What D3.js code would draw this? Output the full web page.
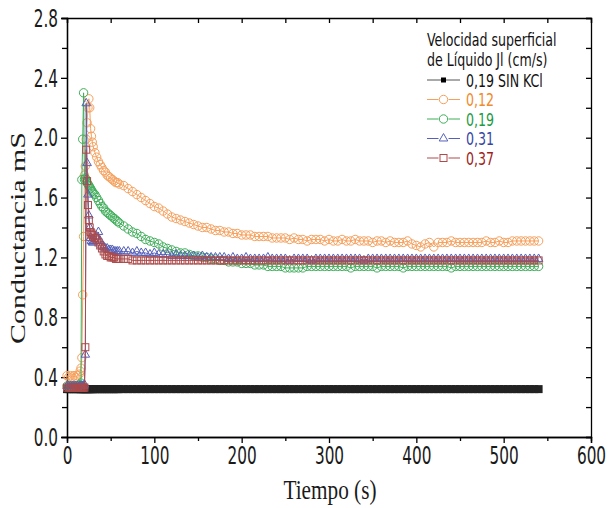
<!DOCTYPE html>
<html>
<head>
<meta charset="utf-8">
<title>Conductancia</title>
<style>
  body { margin: 0; background: #fff; }
  svg { display: block; }
  .axis path, .axis line { stroke: #000; stroke-width: 1.3; }
  .axis text {
    font-family: "DejaVu Sans Condensed", "DejaVu Sans", sans-serif;
    font-size: 17px; fill: #1a1a1a;
    transform-box: fill-box; transform-origin: center; transform: scaleY(1.45);
  }
  .leg text {
    font-family: "DejaVu Sans Condensed", "DejaVu Sans", sans-serif;
    font-size: 14px;
    transform-box: fill-box; transform-origin: center; transform: scaleY(1.3);
  }
  .titulo { font-family: "Liberation Serif", "Times New Roman", serif; font-size: 21px; fill: #1a1a1a; }
  .estirado { transform-box: fill-box; transform-origin: center; transform: scaleY(1.25); }
</style>
</head>
<body>
<svg width="609" height="508"></svg>
<script src="https://cdn.jsdelivr.net/npm/d3@7"></script>
<script>
// tiempo (s), compartido por todas las series
var tiempo = [
  0, 2, 4, 6, 8, 10, 12, 14,
  15, 16, 17, 18, 19, 20, 21, 22, 23, 24, 25, 26, 27, 28, 29, 30,
  32, 34, 36, 38, 40, 42, 44, 46, 48, 50, 52, 54, 56, 58, 60,
  65, 70, 75, 80, 85, 90, 95, 100, 105, 110,
  115, 120, 125, 130, 135, 140, 145, 150, 155, 160,
  165, 170, 175, 180, 185, 190, 195, 200, 205, 210,
  215, 220, 225, 230, 235, 240, 245, 250, 255, 260,
  265, 270, 275, 280, 285, 290, 295, 300, 305, 310,
  315, 320, 325, 330, 335, 340, 345, 350, 355, 360,
  365, 370, 375, 380, 385, 390, 395, 400, 405, 410,
  415, 420, 425, 430, 435, 440, 445, 450, 455, 460,
  465, 470, 475, 480, 485, 490, 495, 500, 505, 510,
  515, 520, 525, 530, 535, 540
];

// 0,19 SIN KCl
var sinKCl = [
  0.32, 0.32, 0.32, 0.32, 0.32, 0.32, 0.32, 0.32,
  0.32, 0.32, 0.32, 0.32, 0.32, 0.32, 0.32, 0.32, 0.32, 0.32, 0.32, 0.32, 0.32, 0.32, 0.32, 0.32,
  0.32, 0.32, 0.32, 0.32, 0.32, 0.32, 0.32, 0.32, 0.32, 0.32, 0.32, 0.32, 0.32, 0.32, 0.32,
  0.32, 0.32, 0.32, 0.32, 0.32, 0.32, 0.32, 0.32, 0.32, 0.32,
  0.32, 0.32, 0.32, 0.32, 0.32, 0.32, 0.32, 0.32, 0.32, 0.32,
  0.32, 0.32, 0.32, 0.32, 0.32, 0.32, 0.32, 0.32, 0.32, 0.32,
  0.32, 0.32, 0.32, 0.32, 0.32, 0.32, 0.32, 0.32, 0.32, 0.32,
  0.32, 0.32, 0.32, 0.32, 0.32, 0.32, 0.32, 0.32, 0.32, 0.32,
  0.32, 0.32, 0.32, 0.32, 0.32, 0.32, 0.32, 0.32, 0.32, 0.32,
  0.32, 0.32, 0.32, 0.32, 0.32, 0.32, 0.32, 0.32, 0.32, 0.32,
  0.32, 0.32, 0.32, 0.32, 0.32, 0.32, 0.32, 0.32, 0.32, 0.32,
  0.32, 0.32, 0.32, 0.32, 0.32, 0.32, 0.32, 0.32, 0.32, 0.32,
  0.32, 0.32, 0.32, 0.32, 0.32, 0.32
];

// 0,12
var jl012 = [
  0.41, 0.40, 0.41, 0.40, 0.41, 0.40, 0.41, 0.42,
  0.44, 0.46, 0.53, 0.95, 1.34, 1.75, 1.81, 1.99, 2.10, 2.20, 2.26, 2.20, 2.06, 2.01, 1.97, 1.94,
  1.90, 1.87, 1.84, 1.82, 1.80, 1.78, 1.77, 1.75, 1.74, 1.73, 1.72, 1.71, 1.70, 1.70, 1.69,
  1.68, 1.66, 1.64, 1.62, 1.60, 1.58, 1.56, 1.54, 1.53, 1.51,
  1.49, 1.47, 1.46, 1.45, 1.44, 1.43, 1.42, 1.41, 1.40, 1.40,
  1.39, 1.38, 1.38, 1.37, 1.37, 1.36, 1.36, 1.35, 1.35, 1.35,
  1.34, 1.34, 1.34, 1.34, 1.33, 1.33, 1.33, 1.33, 1.32, 1.33,
  1.32, 1.32, 1.31, 1.32, 1.32, 1.32, 1.31, 1.32, 1.31, 1.31,
  1.32, 1.31, 1.31, 1.32, 1.31, 1.31, 1.31, 1.30, 1.31, 1.31,
  1.30, 1.31, 1.30, 1.30, 1.30, 1.31, 1.29, 1.28, 1.27, 1.29,
  1.30, 1.27, 1.30, 1.30, 1.30, 1.31, 1.30, 1.30, 1.30, 1.30,
  1.30, 1.30, 1.30, 1.31, 1.30, 1.30, 1.31, 1.30, 1.30, 1.31,
  1.31, 1.31, 1.31, 1.31, 1.31, 1.31
];

// 0,19
var jl019 = [
  0.34, 0.34, 0.34, 0.34, 0.34, 0.34, 0.34, 0.34,
  0.35, 0.36, 1.72, 1.99, 2.30, 1.72, 1.73, 1.72, 1.70, 1.69, 1.68, 1.67, 1.66, 1.65, 1.64, 1.63,
  1.62, 1.60, 1.58, 1.56, 1.54, 1.53, 1.51, 1.50, 1.49, 1.48, 1.47, 1.46, 1.45, 1.44, 1.43,
  1.41, 1.39, 1.37, 1.36, 1.34, 1.32, 1.31, 1.30, 1.29, 1.27,
  1.26, 1.25, 1.24, 1.23, 1.23, 1.22, 1.21, 1.21, 1.20, 1.20,
  1.19, 1.19, 1.18, 1.18, 1.17, 1.17, 1.17, 1.16, 1.16, 1.16,
  1.15, 1.15, 1.15, 1.14, 1.14, 1.14, 1.14, 1.13, 1.13, 1.13,
  1.13, 1.13, 1.14, 1.14, 1.14, 1.14, 1.14, 1.14, 1.14, 1.14,
  1.14, 1.14, 1.13, 1.14, 1.14, 1.14, 1.14, 1.14, 1.13, 1.14,
  1.14, 1.14, 1.14, 1.14, 1.13, 1.14, 1.14, 1.14, 1.14, 1.14,
  1.14, 1.14, 1.14, 1.14, 1.14, 1.13, 1.14, 1.14, 1.14, 1.14,
  1.14, 1.14, 1.14, 1.14, 1.14, 1.14, 1.14, 1.14, 1.14, 1.14,
  1.14, 1.14, 1.14, 1.14, 1.14, 1.14
];

// 0,31
var jl031 = [
  0.34, 0.34, 0.34, 0.34, 0.34, 0.34, 0.34, 0.34,
  0.34, 0.34, 0.34, 0.34, 0.34, 0.35, 0.55, 2.23, 1.83, 1.62, 1.48, 1.40, 1.33, 1.31, 1.30, 1.30,
  1.31, 1.34, 1.37, 1.31, 1.28, 1.27, 1.26, 1.26, 1.25, 1.25, 1.25, 1.24, 1.24, 1.24, 1.24,
  1.24, 1.24, 1.23, 1.24, 1.23, 1.23, 1.22, 1.23, 1.22, 1.22,
  1.22, 1.21, 1.22, 1.21, 1.21, 1.21, 1.21, 1.20, 1.21, 1.20,
  1.20, 1.20, 1.20, 1.20, 1.19, 1.20, 1.19, 1.19, 1.20, 1.19,
  1.19, 1.19, 1.19, 1.20, 1.19, 1.19, 1.19, 1.19, 1.18, 1.19,
  1.19, 1.19, 1.19, 1.18, 1.19, 1.19, 1.19, 1.19, 1.19, 1.19,
  1.19, 1.19, 1.19, 1.19, 1.19, 1.18, 1.19, 1.19, 1.19, 1.19,
  1.19, 1.19, 1.19, 1.19, 1.19, 1.19, 1.19, 1.19, 1.19, 1.19,
  1.19, 1.19, 1.19, 1.19, 1.19, 1.19, 1.19, 1.19, 1.19, 1.19,
  1.19, 1.19, 1.19, 1.19, 1.19, 1.19, 1.19, 1.19, 1.19, 1.19,
  1.19, 1.19, 1.19, 1.19, 1.19, 1.19
];

// 0,37
var jl037 = [
  0.33, 0.33, 0.33, 0.33, 0.33, 0.33, 0.33, 0.33,
  0.33, 0.33, 0.33, 0.33, 0.33, 0.33, 0.60, 1.92, 1.71, 1.55, 1.45, 1.40, 1.37, 1.36, 1.35, 1.34,
  1.33, 1.32, 1.30, 1.28, 1.26, 1.24, 1.22, 1.21, 1.21, 1.20, 1.20, 1.20, 1.19, 1.19, 1.19,
  1.19, 1.19, 1.18, 1.18, 1.18, 1.18, 1.18, 1.18, 1.18, 1.18,
  1.18, 1.18, 1.18, 1.18, 1.18, 1.18, 1.18, 1.18, 1.18, 1.18,
  1.18, 1.18, 1.18, 1.18, 1.18, 1.18, 1.18, 1.18, 1.18, 1.18,
  1.18, 1.18, 1.18, 1.18, 1.18, 1.18, 1.18, 1.18, 1.18, 1.18,
  1.18, 1.18, 1.18, 1.18, 1.18, 1.18, 1.18, 1.18, 1.18, 1.18,
  1.18, 1.18, 1.18, 1.18, 1.18, 1.18, 1.18, 1.18, 1.18, 1.18,
  1.18, 1.18, 1.18, 1.18, 1.18, 1.18, 1.18, 1.18, 1.18, 1.18,
  1.18, 1.18, 1.18, 1.18, 1.18, 1.18, 1.18, 1.18, 1.18, 1.18,
  1.18, 1.18, 1.18, 1.18, 1.18, 1.18, 1.18, 1.18, 1.18, 1.18,
  1.18, 1.18, 1.18, 1.18, 1.18, 1.18
];

var ticksX = [0, 100, 200, 300, 400, 500, 600];
var ticksY = [0, 0.4, 0.8, 1.2, 1.6, 2.0, 2.4, 2.8];
var tituloLeyenda = ["Velocidad superficial", "de Líquido Jl (cm/s)"];

var series = [
  { nombre: "0,19 SIN KCl", valores: sinKCl, color: "#222", texto: "#111", marca: "cuadroLleno" },
  { nombre: "0,12", valores: jl012, color: "#f6a05c", texto: "#f08a2c", marca: "circulo" },
  { nombre: "0,19", valores: jl019, color: "#3fae5a", texto: "#1e9a44", marca: "circulo" },
  { nombre: "0,31", valores: jl031, color: "#5660b8", texto: "#3545a5", marca: "triangulo" },
  { nombre: "0,37", valores: jl037, color: "#ad4a4a", texto: "#9c2222", marca: "cuadro" }
];
series.forEach(function(s) {
  if (s.valores.length !== tiempo.length) console.error(s.nombre, s.valores.length, tiempo.length);
});

var svg = d3.select("svg");
var x = d3.scaleLinear().domain([0, 600]).range([67, 591]);
var y = d3.scaleLinear().domain([0, 2.8]).range([437, 18]);

// marco y ejes
svg.append("g").attr("class", "axis")
  .attr("transform", "translate(0,18)")
  .call(d3.axisTop(x).tickValues(d3.range(0, 601, 50)).tickSize(-5).tickFormat(""));
svg.append("g").attr("class", "axis")
  .attr("transform", "translate(591,0)")
  .call(d3.axisRight(y).tickValues(d3.range(0, 2.81, 0.2)).tickSize(-5).tickFormat(""));
svg.append("g").attr("class", "axis")
  .attr("transform", "translate(0,437)")
  .call(d3.axisBottom(x).tickValues(d3.range(50, 600, 100)).tickSize(4).tickFormat(""));
svg.append("g").attr("class", "axis")
  .attr("transform", "translate(67,0)")
  .call(d3.axisLeft(y).tickValues(d3.range(0.2, 2.8, 0.4)).tickSize(5).tickFormat(""));
svg.append("g").attr("class", "axis")
  .attr("transform", "translate(0,437)")
  .call(d3.axisBottom(x).tickValues(ticksX).tickSize(6).tickPadding(6).tickFormat(d3.format("d")));
svg.append("g").attr("class", "axis")
  .attr("transform", "translate(67,0)")
  .call(d3.axisLeft(y).tickValues(ticksY).tickSize(6).tickPadding(3).tickFormat(d3.format(".1f")));

svg.append("text").attr("class", "titulo estirado")
  .attr("x", 330).attr("y", 497).attr("text-anchor", "middle")
  .attr("textLength", 93).attr("lengthAdjust", "spacingAndGlyphs")
  .text("Tiempo (s)");
svg.append("text").attr("class", "titulo")
  .attr("transform", "translate(25,238) rotate(-90)")
  .attr("text-anchor", "middle")
  .attr("textLength", 212).attr("lengthAdjust", "spacingAndGlyphs")
  .text("Conductancia mS");

function marca(g, tipo, color) {
  if (tipo === "circulo") {
    g.append("circle").attr("r", 4.2).attr("fill", "none").attr("stroke", color).attr("stroke-width", 1);
  } else if (tipo === "triangulo") {
    g.append("path").attr("d", d3.symbol(d3.symbolTriangle, 32)()).attr("fill", "none").attr("stroke", color).attr("stroke-width", 1);
  } else if (tipo === "cuadro") {
    g.append("rect").attr("x", -3.5).attr("y", -3.5).attr("width", 7).attr("height", 7)
      .attr("fill", "none").attr("stroke", color).attr("stroke-width", 1);
  } else {
    g.append("rect").attr("x", -4).attr("y", -4).attr("width", 8).attr("height", 8).attr("fill", color);
  }
}

var linea = d3.line()
  .x(function(d) { return x(d[0]); })
  .y(function(d) { return y(d[1]); });

series.forEach(function(s) {
  var pts = tiempo.map(function(t, i) { return [t, s.valores[i]]; });
  var g = svg.append("g");
  g.append("path").datum(pts).attr("d", linea)
    .attr("fill", "none").attr("stroke", s.color).attr("stroke-width", 1);
  g.selectAll("g").data(pts).enter().append("g")
    .attr("transform", function(d) { return "translate(" + x(d[0]) + "," + y(d[1]) + ")"; })
    .each(function() { marca(d3.select(this), s.marca, s.color); });
});

// leyenda
var leg = svg.append("g").attr("class", "leg");
tituloLeyenda.forEach(function(t, i) {
  leg.append("text").attr("x", 427).attr("y", 45 + i * 19.5).attr("fill", "#111").text(t);
});
series.forEach(function(s, i) {
  var yy = 80 + i * 19.5;
  leg.append("line").attr("x1", 427).attr("x2", 460).attr("y1", yy).attr("y2", yy)
    .attr("stroke", i === 0 ? "#555" : s.color).attr("stroke-width", 1);
  var g = leg.append("g").attr("transform", "translate(443.5," + yy + ")");
  if (i === 0) {
    g.append("rect").attr("x", -2.5).attr("y", -2.5).attr("width", 5).attr("height", 5).attr("fill", "#000");
  } else {
    g.append("rect").attr("x", -5).attr("y", -5).attr("width", 10).attr("height", 10).attr("fill", "#fff");
    marca(g, s.marca, s.color);
  }
  leg.append("text").attr("x", 466).attr("y", yy + 5.5).attr("fill", s.texto).text(s.nombre);
});
</script>
</body>
</html>
